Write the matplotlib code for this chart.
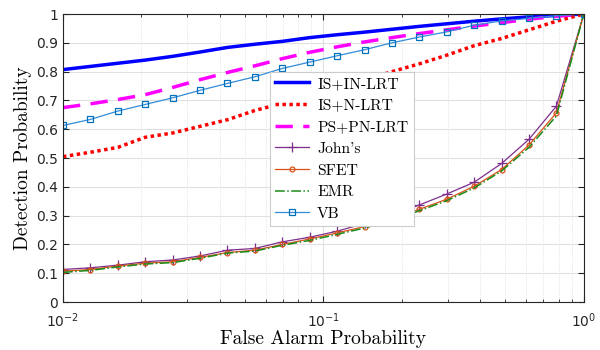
import matplotlib
matplotlib.use('Agg')
import matplotlib.pyplot as plt
import numpy as np

# false alarm grid (20 log-spaced points from 1e-2 to 1)
pfa = np.logspace(-2, 0, 20)

is_in_lrt = [0.807, 0.818, 0.829, 0.840, 0.853, 0.868, 0.884, 0.895, 0.905, 0.918,
             0.928, 0.937, 0.947, 0.957, 0.966, 0.975, 0.983, 0.990, 0.995, 1.0]
is_n_lrt = [0.505, 0.520, 0.537, 0.572, 0.587, 0.610, 0.633, 0.665, 0.690, 0.715,
            0.740, 0.770, 0.800, 0.827, 0.857, 0.890, 0.915, 0.945, 0.975, 1.0]
ps_pn_lrt = [0.675, 0.688, 0.703, 0.720, 0.745, 0.772, 0.797, 0.820, 0.845, 0.867,
             0.886, 0.903, 0.918, 0.932, 0.945, 0.958, 0.970, 0.982, 0.992, 1.0]
johns = [0.113, 0.119, 0.128, 0.140, 0.146, 0.160, 0.180, 0.186, 0.209, 0.225,
         0.246, 0.273, 0.302, 0.337, 0.375, 0.416, 0.481, 0.565, 0.680, 1.0]
sfet = [0.107, 0.113, 0.125, 0.135, 0.140, 0.155, 0.172, 0.180, 0.200, 0.219,
        0.240, 0.262, 0.288, 0.322, 0.357, 0.402, 0.460, 0.545, 0.657, 1.0]
emr = [0.103, 0.110, 0.122, 0.132, 0.137, 0.152, 0.170, 0.177, 0.197, 0.214,
       0.235, 0.257, 0.283, 0.317, 0.352, 0.396, 0.455, 0.537, 0.646, 1.0]
vb = [0.613, 0.634, 0.663, 0.686, 0.709, 0.735, 0.759, 0.782, 0.811, 0.833,
      0.855, 0.876, 0.900, 0.920, 0.938, 0.961, 0.976, 0.985, 0.994, 1.0]

serif = ['cmr10', 'DejaVu Serif']

fig = plt.figure(figsize=(6, 3.5), dpi=100)
ax = fig.add_axes([0.105, 0.137, 0.868, 0.823])

ax.plot(pfa, is_in_lrt, color=(0, 0, 1), lw=2.5, label='IS+IN-LRT')
ax.plot(pfa, is_n_lrt, color=(1, 0, 0), lw=2.5, ls=(0, (1, 1)), label='IS+N-LRT')
ax.plot(pfa, ps_pn_lrt, color=(1, 0, 1), lw=2.5, ls=(0, (5, 3)), label='PS+PN-LRT')
ax.plot(pfa, johns, color=(0.494, 0.184, 0.556), lw=0.9, marker='+', ms=7,
        mew=0.9, label="John's")
ax.plot(pfa, sfet, color=(0.85, 0.325, 0.098), lw=0.9, marker='o', ms=3.5,
        mfc='none', mew=0.9, label='SFET')
ax.plot(pfa, emr, color=(0.1, 0.55, 0.1), lw=1.1, ls='-.', label='EMR')
ax.plot(pfa, vb, color=(0.2, 0.55, 0.85), lw=0.9, marker='s', ms=4,
        mfc='none', mec=(0, 0.447, 0.741), mew=0.9, label='VB')

ax.set_xscale('log')
ax.set_xlim(1e-2, 1)
ax.set_ylim(0, 1)
ax.set_yticks(np.arange(0, 1.01, 0.1))
ax.set_yticklabels(['0', '0.1', '0.2', '0.3', '0.4', '0.5', '0.6', '0.7', '0.8', '0.9', '1'])

ax.grid(True, which='major', color=(0.88, 0.88, 0.88), lw=0.8)
ax.grid(True, which='minor', axis='x', color=(0.85, 0.85, 0.85), lw=0.6, ls=':')
ax.set_axisbelow(True)

ax.tick_params(which='both', direction='in', top=True, right=True,
               labelsize=10, colors=(0.15, 0.15, 0.15))
ax.tick_params(which='major', length=4)
ax.tick_params(which='minor', length=2)
ax.tick_params(axis='x', which='major', pad=7)
for s in ax.spines.values():
    s.set_color((0.15, 0.15, 0.15))
    s.set_linewidth(0.8)

ax.set_xlabel('False Alarm Probability', family=serif, fontsize=14, labelpad=0)
ax.set_ylabel('Detection Probability', family=serif, fontsize=14, labelpad=3)

leg = ax.legend(loc='upper left', bbox_to_anchor=(0.397, 0.80), prop={'family': serif, 'size': 11.2},
                handlelength=2.2, fancybox=False, framealpha=1, edgecolor=(0.8, 0.8, 0.8),
                borderpad=0.35, labelspacing=0.5, handletextpad=0.5, borderaxespad=0)
leg.get_frame().set_linewidth(0.8)

fig.savefig('out.png', dpi=100)
